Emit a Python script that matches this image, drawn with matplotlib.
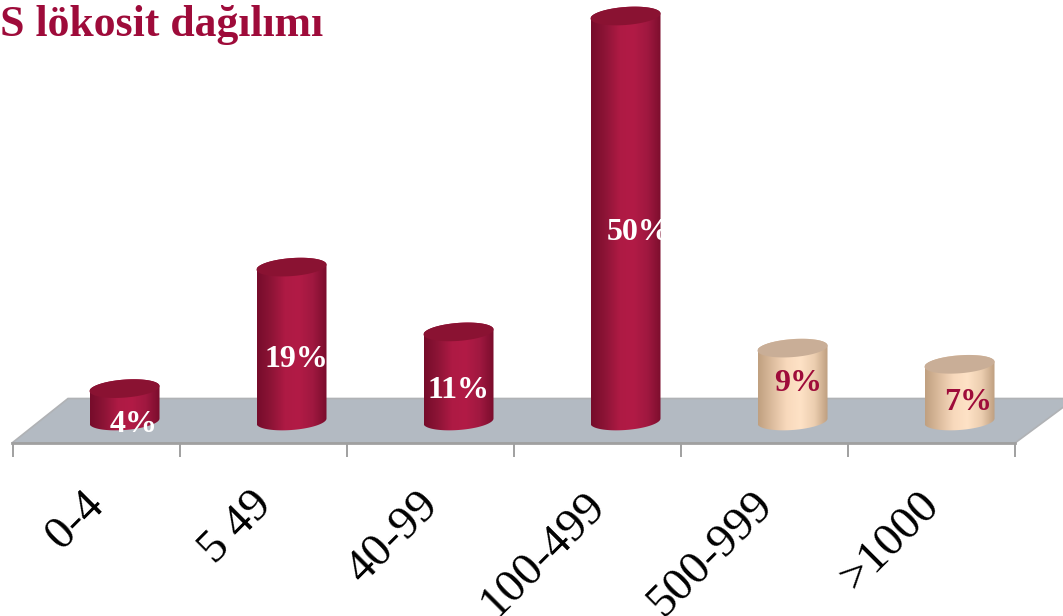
import numpy as np
import matplotlib
matplotlib.use("Agg")
import matplotlib.pyplot as plt
from matplotlib.colors import LinearSegmentedColormap
from matplotlib.patches import Polygon, PathPatch
from matplotlib.path import Path

# ── Data ─────────────────────────────────────────────────────────────────────

categories = ["0-4", "5 49", "40-99", "100-499", "500-999", ">1000"]
percent = [4, 19, 11, 50, 9, 7]
title = "BOS lökosit dağılımı"

# ── Canvas scale: 167 px per category, 8.1 px per percent ────────────────────

W, H = 1063, 616
X0, DX = 96.5, 167.0
Y0, DY = 421.0, 8.1

def xd(px):
    return (px - X0) / DX

def yd(px):
    return (Y0 - px) / DY

RED = {"body": ["#760c2b", "#8d1436", "#ae1a44", "#b21b46", "#a01840", "#7a0d2c"],
       "cap": "#8a1232", "text": "white"}
PEACH = {"body": ["#c0a080", "#dcbc9e", "#f8d9bc", "#fee2c6", "#ecceb0", "#bb9b7c"],
         "cap": "#c9ae97", "text": "#9e0b3a"}
styles = [RED, RED, RED, RED, PEACH, PEACH]

# label nudges from the bar's middle, in px (right, down)
label_nudge = [(9, 20), (5, 15), (0, 14), (13, 14), (6, -1), (9, 10)]

SHIFT = 28.0      # depth shift of the bars over the floor
RX, RY, TILT = 35.0, 9.0, 2.5

fig = plt.figure(figsize=(W / 100, H / 100), dpi=100)
ax = fig.add_axes([0, 0, 1, 1])
ax.axis("off")

# ── Floor and ticks ──────────────────────────────────────────────────────────

floor = Polygon([(xd(12), yd(443)), (xd(68), yd(398.5)), (xd(1075), yd(398.5)), (xd(1015), yd(443))],
                closed=True, facecolor="#b3bac2", edgecolor="#b0b2b5", lw=1.2, zorder=1)
ax.add_patch(floor)
ax.plot([xd(12), xd(1015)], [yd(443), yd(443)], color="#a0a0a0", lw=2, zorder=1)
ticks = np.arange(len(categories) + 1) - 0.5
ax.vlines(ticks, yd(444), yd(457), color="#a0a0a0", lw=1.4, zorder=1)

# ── Cylinders ────────────────────────────────────────────────────────────────

def ring(cx, cy, t):
    # point on a slightly tilted ellipse, cx/cy in px on screen
    px = cx + RX * np.cos(t)
    py = cy - RY * np.sin(t) - TILT * np.cos(t)
    return np.column_stack([xd(px), yd(py)])

for i, (v, st) in enumerate(zip(percent, styles)):
    cx = X0 + DX * i + SHIFT
    top = Y0 - v * DY
    cmap = LinearSegmentedColormap.from_list("cyl", st["body"])

    lower = ring(cx, Y0, np.linspace(np.pi, 2 * np.pi, 60))
    upper = ring(cx, top, np.linspace(0, np.pi, 60))
    body = Path(np.vstack([lower, upper, lower[:1]]), closed=True)
    patch = PathPatch(body, facecolor="none", edgecolor="none")
    ax.add_patch(patch)
    im = ax.imshow(np.linspace(0, 1, 128)[None, :], cmap=cmap, aspect="auto", zorder=2,
                   extent=[xd(cx - RX), xd(cx + RX), yd(Y0 + RY + TILT), yd(top - RY - TILT)])
    im.set_clip_path(patch)

    cap = Polygon(ring(cx, top, np.linspace(0, 2 * np.pi, 80)), closed=True,
                  facecolor=st["cap"], edgecolor="none", zorder=3)
    ax.add_patch(cap)

    nx, ny = label_nudge[i]
    ax.annotate(f"{v}%", (i + xd(X0 + SHIFT), v / 2), xytext=(nx * 0.72, -ny * 0.72),
                textcoords="offset points", ha="center", va="center", color=st["text"],
                family="Liberation Serif", fontweight="bold", fontsize=23, zorder=4)

# ── Text ─────────────────────────────────────────────────────────────────────

for i, name in enumerate(categories):
    ax.text(i - 0.08, yd(484), name, rotation=45, rotation_mode="anchor", ha="right", va="top",
            family="Liberation Serif", fontsize=34, color="black", zorder=4)

ax.text(xd(323), yd(36), title, ha="right", va="baseline", color="#9e0b3a",
        family="Liberation Serif", fontweight="bold", fontsize=31.5, zorder=4)

ax.set_xlim(xd(0), xd(W))
ax.set_ylim(yd(H), yd(0))

fig.savefig("out.png", dpi=100)
